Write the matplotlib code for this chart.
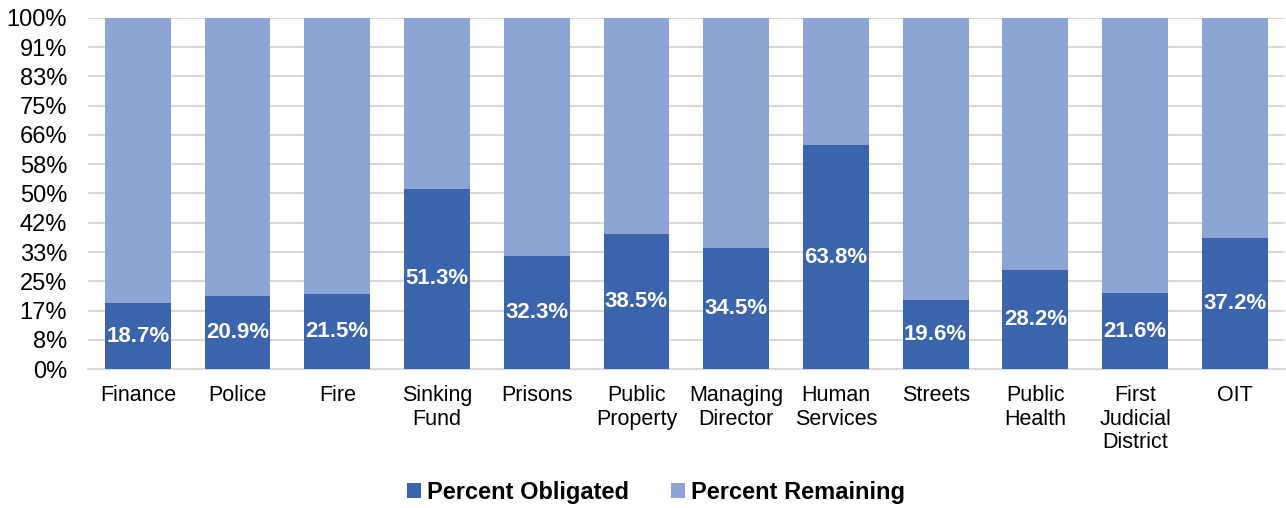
import matplotlib
matplotlib.use("Agg")
import matplotlib.pyplot as plt
import numpy as np

plt.rcParams['font.family'] = ['Liberation Sans', 'DejaVu Sans']

categories = ["Finance", "Police", "Fire", "Sinking\nFund", "Prisons", "Public\nProperty",
              "Managing\nDirector", "Human\nServices", "Streets", "Public\nHealth",
              "First\nJudicial\nDistrict", "OIT"]
obligated = [18.7, 20.9, 21.5, 51.3, 32.3, 38.5, 34.5, 63.8, 19.6, 28.2, 21.6, 37.2]
remaining = [100 - v for v in obligated]
ytick_labels = ["0%", "8%", "17%", "25%", "33%", "42%", "50%", "58%", "66%", "75%", "83%", "91%", "100%"]

dark = "#3C64AD"
light = "#8EA4D5"

fig = plt.figure(figsize=(12.86, 5.08), dpi=100)
ax = fig.add_axes([0.0684, 0.2736, 0.9306, 0.691])

x = np.arange(len(categories))
b1 = ax.bar(x, obligated, width=0.66, color=dark, label="Percent Obligated", zorder=3)
b2 = ax.bar(x, remaining, width=0.66, bottom=obligated, color=light, label="Percent Remaining", zorder=3)

for xi, v in zip(x, obligated):
    ax.text(xi, v / 2, f"{v:.1f}%", ha="center", va="center", color="white",
            fontsize=16, fontweight="bold", zorder=4)

ax.set_xlim(-0.5, len(categories) - 0.5)
ax.set_ylim(0, 100)
ticks = np.linspace(0, 100, 13)
ax.set_yticks(ticks)
ax.set_yticklabels(ytick_labels)
ax.yaxis.grid(True, color="#D9D9D9", linewidth=1.5, zorder=0)
ax.set_axisbelow(True)
ax.set_xticks(x)
ax.set_xticklabels(categories, linespacing=1.17)
ax.tick_params(axis="x", length=0, labelsize=15.5, colors="black", pad=11.5)
ax.tick_params(axis="y", length=0, labelsize=17, colors="black", pad=15)
for s in ["top", "right", "left"]:
    ax.spines[s].set_visible(False)
ax.spines["bottom"].set_color("#D9D9D9")
ax.spines["bottom"].set_linewidth(1.5)

leg = fig.legend(handles=[b1, b2], loc="center", bbox_to_anchor=(0.51, 0.031), ncol=2,
                 frameon=False, prop={"weight": "bold", "size": 17},
                 handlelength=0.6, handleheight=0.6, handletextpad=0.25, columnspacing=1.8)

fig.savefig("out.png", dpi=100)
